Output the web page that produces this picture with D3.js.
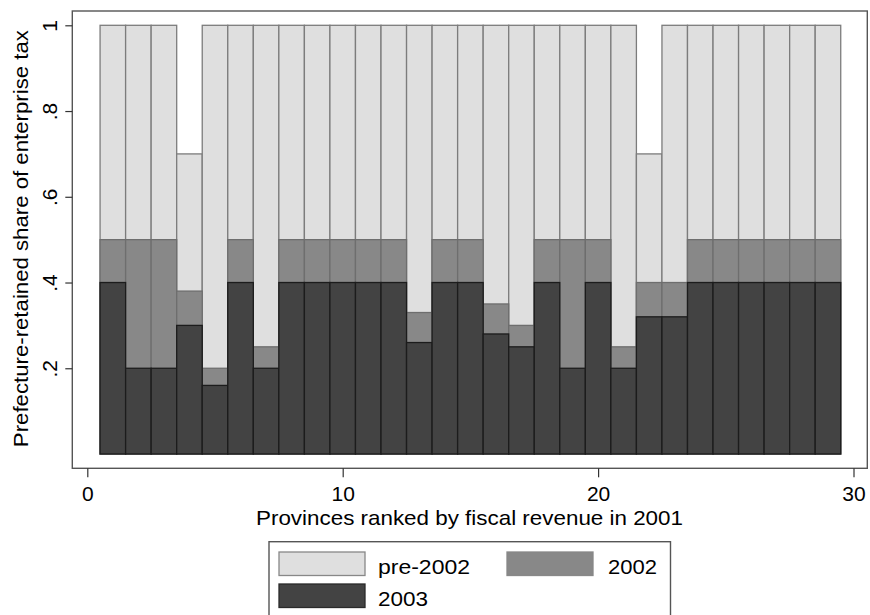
<!DOCTYPE html>
<html>
<head>
<meta charset="utf-8">
<script src="https://cdn.jsdelivr.net/npm/d3@7"></script>
<style>
  body { margin: 0; background: #fff; }
  text { font-family: "Liberation Sans", Arial, Helvetica, sans-serif; fill: #000; }
</style>
</head>
<body>
<div id="chart"></div>
<script>
// Data: provinces 1..29 ranked by fiscal revenue in 2001
const provinces = d3.range(1, 30);
const pre2002 = [1, 1, 1, 0.7, 1, 1, 1, 1, 1, 1, 1, 1, 1, 1, 1, 1, 1, 1, 1, 1, 1, 0.7, 1, 1, 1, 1, 1, 1, 1];
const y2002 = [0.5, 0.5, 0.5, 0.38, 0.2, 0.5, 0.25, 0.5, 0.5, 0.5, 0.5, 0.5, 0.33, 0.5, 0.5, 0.35, 0.3, 0.5, 0.5, 0.5, 0.25, 0.4, 0.4, 0.5, 0.5, 0.5, 0.5, 0.5, 0.5];
const y2003 = [0.4, 0.2, 0.2, 0.3, 0.16, 0.4, 0.2, 0.4, 0.4, 0.4, 0.4, 0.4, 0.26, 0.4, 0.4, 0.28, 0.25, 0.4, 0.2, 0.4, 0.2, 0.32, 0.32, 0.4, 0.4, 0.4, 0.4, 0.4, 0.4];
const xTicks = [0, 10, 20, 30];
const yTicks = [0.2, 0.4, 0.6, 0.8, 1];
const yTickLabels = ['.2', '.4', '.6', '.8', '1'];

const series = [
    { name: 'pre-2002', values: pre2002, fill: '#dfdfdf', stroke: '#7c7c7c' },
    { name: '2002', values: y2002, fill: '#888888', stroke: '#6e6e6e' },
    { name: '2003', values: y2003, fill: '#434343', stroke: '#1c1c1c' }
];

const W = 870, H = 615;
const box = { left: 72.3, right: 867.3, top: 11, bottom: 468.3 };

const svg = d3.select('#chart')
    .append('svg')
    .attr('width', W)
    .attr('height', H);

const x = d3.scaleLinear().domain([0, 30]).range([87.3, 853.5]);
const y = d3.scaleLinear().domain([0, 1]).range([454, 25.3]);

// Bars, drawn series over series
series.forEach(s => {
    svg.append('g')
        .selectAll('rect')
        .data(provinces)
        .enter()
        .append('rect')
        .attr('x', d => x(d - 0.5))
        .attr('width', x(1) - x(0))
        .attr('y', (d, i) => y(s.values[i]))
        .attr('height', (d, i) => y(0) - y(s.values[i]))
        .attr('fill', s.fill)
        .attr('stroke', s.stroke)
        .attr('stroke-width', 1.3);
});

// Plot region border
svg.append('rect')
    .attr('x', box.left)
    .attr('y', box.top)
    .attr('width', box.right - box.left)
    .attr('height', box.bottom - box.top)
    .attr('fill', 'none')
    .attr('stroke', '#555')
    .attr('stroke-width', 1.4);

// X axis
const xAxis = svg.append('g')
    .attr('transform', `translate(0,${box.bottom})`)
    .call(d3.axisBottom(x).tickValues(xTicks).tickSize(9).tickPadding(8.5).tickFormat(d3.format('d')));
xAxis.select('.domain').remove();
xAxis.selectAll('line').attr('stroke', '#333').attr('stroke-width', 1.2);
xAxis.selectAll('text').style('font-size', '21px').attr('fill', '#000');

// Y axis
const yAxis = svg.append('g')
    .attr('transform', `translate(${box.left},0)`)
    .call(d3.axisLeft(y).tickValues(yTicks).tickSize(7).tickFormat((d, i) => yTickLabels[i]));
yAxis.select('.domain').remove();
yAxis.selectAll('line').attr('stroke', '#333').attr('stroke-width', 1.2);
yAxis.selectAll('text')
    .style('font-size', '21px')
    .attr('fill', '#000')
    .attr('transform', 'rotate(-90)')
    .attr('x', 0)
    .attr('y', -15)
    .attr('dy', 0)
    .attr('text-anchor', 'middle');

// Axis titles
svg.append('text')
    .attr('x', 469.5)
    .attr('y', 525)
    .attr('text-anchor', 'middle')
    .attr('textLength', 427)
    .attr('lengthAdjust', 'spacingAndGlyphs')
    .style('font-size', '21px')
    .text('Provinces ranked by fiscal revenue in 2001');

svg.append('text')
    .attr('transform', `translate(28,${(box.top + box.bottom) / 2 - 1}) rotate(-90)`)
    .attr('text-anchor', 'middle')
    .attr('textLength', 417)
    .attr('lengthAdjust', 'spacingAndGlyphs')
    .style('font-size', '21px')
    .text('Prefecture-retained share of enterprise tax');

// Legend
const legend = svg.append('g');
legend.append('rect')
    .attr('x', 269)
    .attr('y', 541.7)
    .attr('width', 401.5)
    .attr('height', 100)
    .attr('fill', '#fff')
    .attr('stroke', '#555')
    .attr('stroke-width', 1.4);

const legendPos = [
    { sx: 279, ty: 552, tx: 378, anchor: 'start', len: 92 },
    { sx: 507, ty: 552, tx: 657, anchor: 'end', len: 49 },
    { sx: 279, ty: 584, tx: 378, anchor: 'start', len: 50 }
];
series.forEach((s, i) => {
    const p = legendPos[i];
    legend.append('rect')
        .attr('x', p.sx)
        .attr('y', p.ty)
        .attr('width', 86)
        .attr('height', 23.5)
        .attr('fill', s.fill)
        .attr('stroke', i === 2 ? '#2a2a2a' : '#888')
        .attr('stroke-width', 1.3);
    legend.append('text')
        .attr('x', p.tx)
        .attr('y', p.ty + 21.5)
        .attr('text-anchor', p.anchor)
        .attr('textLength', p.len)
        .attr('lengthAdjust', 'spacingAndGlyphs')
        .style('font-size', '21px')
        .text(s.name);
});
</script>
</body>
</html>
